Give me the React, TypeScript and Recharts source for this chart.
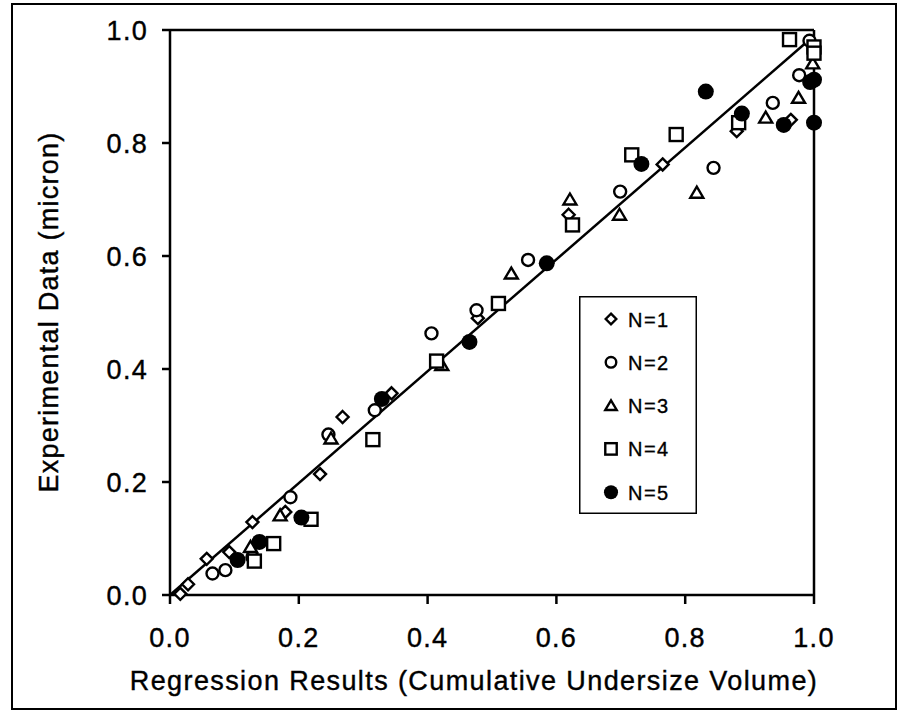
import React from 'react';
import { ScatterChart, Scatter, XAxis, YAxis, ReferenceLine, Legend, Label } from 'recharts';

// values
const n1 = [
  { x: 0.016, y: 0.002 }, { x: 0.028, y: 0.019 }, { x: 0.057, y: 0.064 }, { x: 0.092, y: 0.076 },
  { x: 0.128, y: 0.129 }, { x: 0.179, y: 0.147 }, { x: 0.233, y: 0.214 }, { x: 0.268, y: 0.315 },
  { x: 0.344, y: 0.357 }, { x: 0.478, y: 0.49 }, { x: 0.619, y: 0.673 }, { x: 0.765, y: 0.762 },
  { x: 0.88, y: 0.821 }, { x: 0.964, y: 0.841 },
];
const n2 = [
  { x: 0.066, y: 0.038 }, { x: 0.086, y: 0.044 }, { x: 0.128, y: 0.067 }, { x: 0.187, y: 0.173 },
  { x: 0.246, y: 0.284 }, { x: 0.318, y: 0.327 }, { x: 0.406, y: 0.463 }, { x: 0.476, y: 0.504 },
  { x: 0.556, y: 0.593 }, { x: 0.699, y: 0.714 }, { x: 0.844, y: 0.756 }, { x: 0.936, y: 0.871 },
  { x: 0.977, y: 0.92 }, { x: 0.993, y: 0.981 },
];
const n3 = [
  { x: 0.125, y: 0.085 }, { x: 0.171, y: 0.141 }, { x: 0.25, y: 0.277 }, { x: 0.422, y: 0.407 },
  { x: 0.53, y: 0.569 }, { x: 0.621, y: 0.7 }, { x: 0.698, y: 0.673 }, { x: 0.818, y: 0.712 },
  { x: 0.925, y: 0.845 }, { x: 0.976, y: 0.88 }, { x: 0.998, y: 0.941 },
];
const n4 = [
  { x: 0.131, y: 0.06 }, { x: 0.161, y: 0.091 }, { x: 0.219, y: 0.134 }, { x: 0.315, y: 0.275 },
  { x: 0.414, y: 0.414 }, { x: 0.51, y: 0.516 }, { x: 0.625, y: 0.655 }, { x: 0.717, y: 0.779 },
  { x: 0.786, y: 0.815 }, { x: 0.883, y: 0.836 }, { x: 0.962, y: 0.983 }, { x: 1.0, y: 0.97 },
  { x: 1.0, y: 0.959 },
];
const n5 = [
  { x: 0.105, y: 0.062 }, { x: 0.139, y: 0.094 }, { x: 0.204, y: 0.137 }, { x: 0.329, y: 0.347 },
  { x: 0.465, y: 0.448 }, { x: 0.585, y: 0.587 }, { x: 0.732, y: 0.763 }, { x: 0.832, y: 0.891 },
  { x: 0.888, y: 0.852 }, { x: 0.953, y: 0.832 }, { x: 0.994, y: 0.908 }, { x: 1.0, y: 0.912 },
  { x: 1.0, y: 0.836 },
];
const fitLine = [{ x: 0, y: 0 }, { x: 0.995, y: 0.985 }];
const ticks = [0, 0.2, 0.4, 0.6, 0.8, 1.0];
const legendItems = [
  { label: 'N=1', kind: 'diamond' },
  { label: 'N=2', kind: 'circle' },
  { label: 'N=3', kind: 'triangle' },
  { label: 'N=4', kind: 'square' },
  { label: 'N=5', kind: 'dot' },
];

const FONT = '"Liberation Sans", Arial, sans-serif';
const fmt = (v: number) => v.toFixed(1);

function Marker({ kind, cx, cy, s = 1 }: { kind: string; cx: number; cy: number; s?: number }) {
  const common = { fill: '#fff', stroke: '#000', strokeWidth: 2.4 };
  if (kind === 'diamond') {
    const r = 6 * s;
    return <polygon points={`${cx},${cy - r} ${cx + r},${cy} ${cx},${cy + r} ${cx - r},${cy}`} {...common} />;
  }
  if (kind === 'circle') return <circle cx={cx} cy={cy} r={6 * s} {...common} />;
  if (kind === 'triangle') {
    const w = 6.5 * s;
    return <polygon points={`${cx},${cy - 6 * s} ${cx + w},${cy + 5 * s} ${cx - w},${cy + 5 * s}`} {...common} />;
  }
  if (kind === 'square') {
    const a = 6.5 * s;
    return <rect x={cx - a} y={cy - a} width={2 * a} height={2 * a} {...common} />;
  }
  return <circle cx={cx} cy={cy} r={8 * s} fill="#000" />;
}

const shapeOf = (kind: string) => (p: any) => <Marker kind={kind} cx={p.cx} cy={p.cy} />;

function LegendBox() {
  return (
    <svg width={118} height={218} style={{ display: 'block' }}>
      <rect x={0.75} y={0.75} width={116.5} height={216.5} fill="#fff" stroke="#000" strokeWidth={1.5} />
      {legendItems.map((item, i) => {
        const cy = 23 + i * 43.3;
        return (
          <g key={item.label}>
            <Marker kind={item.kind} cx={32} cy={cy} s={0.88} />
            <text
              x={49} y={cy + 7.5} fontSize={20} fontFamily={FONT} letterSpacing={1.5}
              fill="#000" stroke="#000" strokeWidth={0.35}
            >
              {item.label}
            </text>
          </g>
        );
      })}
    </svg>
  );
}

export default function App() {
  const axisStyle = { stroke: '#000', strokeWidth: 2.5 };
  const tickStyle = {
    fill: '#000', fontSize: 27, fontFamily: FONT, letterSpacing: 1.3, stroke: '#000', strokeWidth: 0.4,
  };
  return (
    <div style={{ position: 'absolute', left: 0, top: 0, width: 902, height: 715, background: '#fff' }}>
      <div
        style={{
          position: 'absolute', left: 11, top: 3, width: 886, height: 707,
          border: '2.5px solid #000', boxSizing: 'border-box',
        }}
      />
      <div style={{ position: 'absolute', left: 0, top: 0 }}>
        <ScatterChart width={902} height={715} margin={{ top: 30, right: 88, bottom: 0, left: 0 }}>
          <XAxis
            type="number" dataKey="x" domain={[0, 1]} ticks={ticks} tickFormatter={fmt}
            height={120} tickSize={9} tickMargin={24}
            axisLine={axisStyle} tickLine={axisStyle} tick={tickStyle}
          >
            <Label
              content={() => (
                <text
                  x={474} y={690} textAnchor="middle" fontSize={27} fontFamily={FONT} letterSpacing={1.4}
                  fill="#000" stroke="#000" strokeWidth={0.4}
                >
                  Regression Results (Cumulative Undersize Volume)
                </text>
              )}
            />
          </XAxis>
          <YAxis
            type="number" dataKey="y" domain={[0, 1]} ticks={ticks} tickFormatter={fmt}
            width={170} tickSize={8} tickMargin={14}
            axisLine={axisStyle} tickLine={axisStyle} tick={tickStyle}
          >
            <Label
              content={() => (
                <text
                  x={58} y={312} textAnchor="middle" transform="rotate(-90, 58, 312)"
                  fontSize={27} fontFamily={FONT} letterSpacing={1.25}
                  fill="#000" stroke="#000" strokeWidth={0.4}
                >
                  Experimental Data (micron)
                </text>
              )}
            />
          </YAxis>
          <ReferenceLine y={1} stroke="#000" strokeWidth={2.5} />
          <ReferenceLine x={1} stroke="#000" strokeWidth={2.5} />
          <Scatter
            data={fitLine} line={{ stroke: '#000', strokeWidth: 2.5 }} shape={() => <g />}
            legendType="none" isAnimationActive={false}
          />
          <Scatter name="N=1" data={n1} shape={shapeOf('diamond')} isAnimationActive={false} />
          <Scatter name="N=2" data={n2} shape={shapeOf('circle')} isAnimationActive={false} />
          <Scatter name="N=3" data={n3} shape={shapeOf('triangle')} isAnimationActive={false} />
          <Scatter name="N=4" data={n4} shape={shapeOf('square')} isAnimationActive={false} />
          <Scatter name="N=5" data={n5} shape={shapeOf('dot')} isAnimationActive={false} />
          <Legend
            layout="vertical" align="center" verticalAlign="middle"
            wrapperStyle={{ left: 579, top: 296, width: 118, height: 218 }}
            content={() => <LegendBox />}
          />
        </ScatterChart>
      </div>
    </div>
  );
}
